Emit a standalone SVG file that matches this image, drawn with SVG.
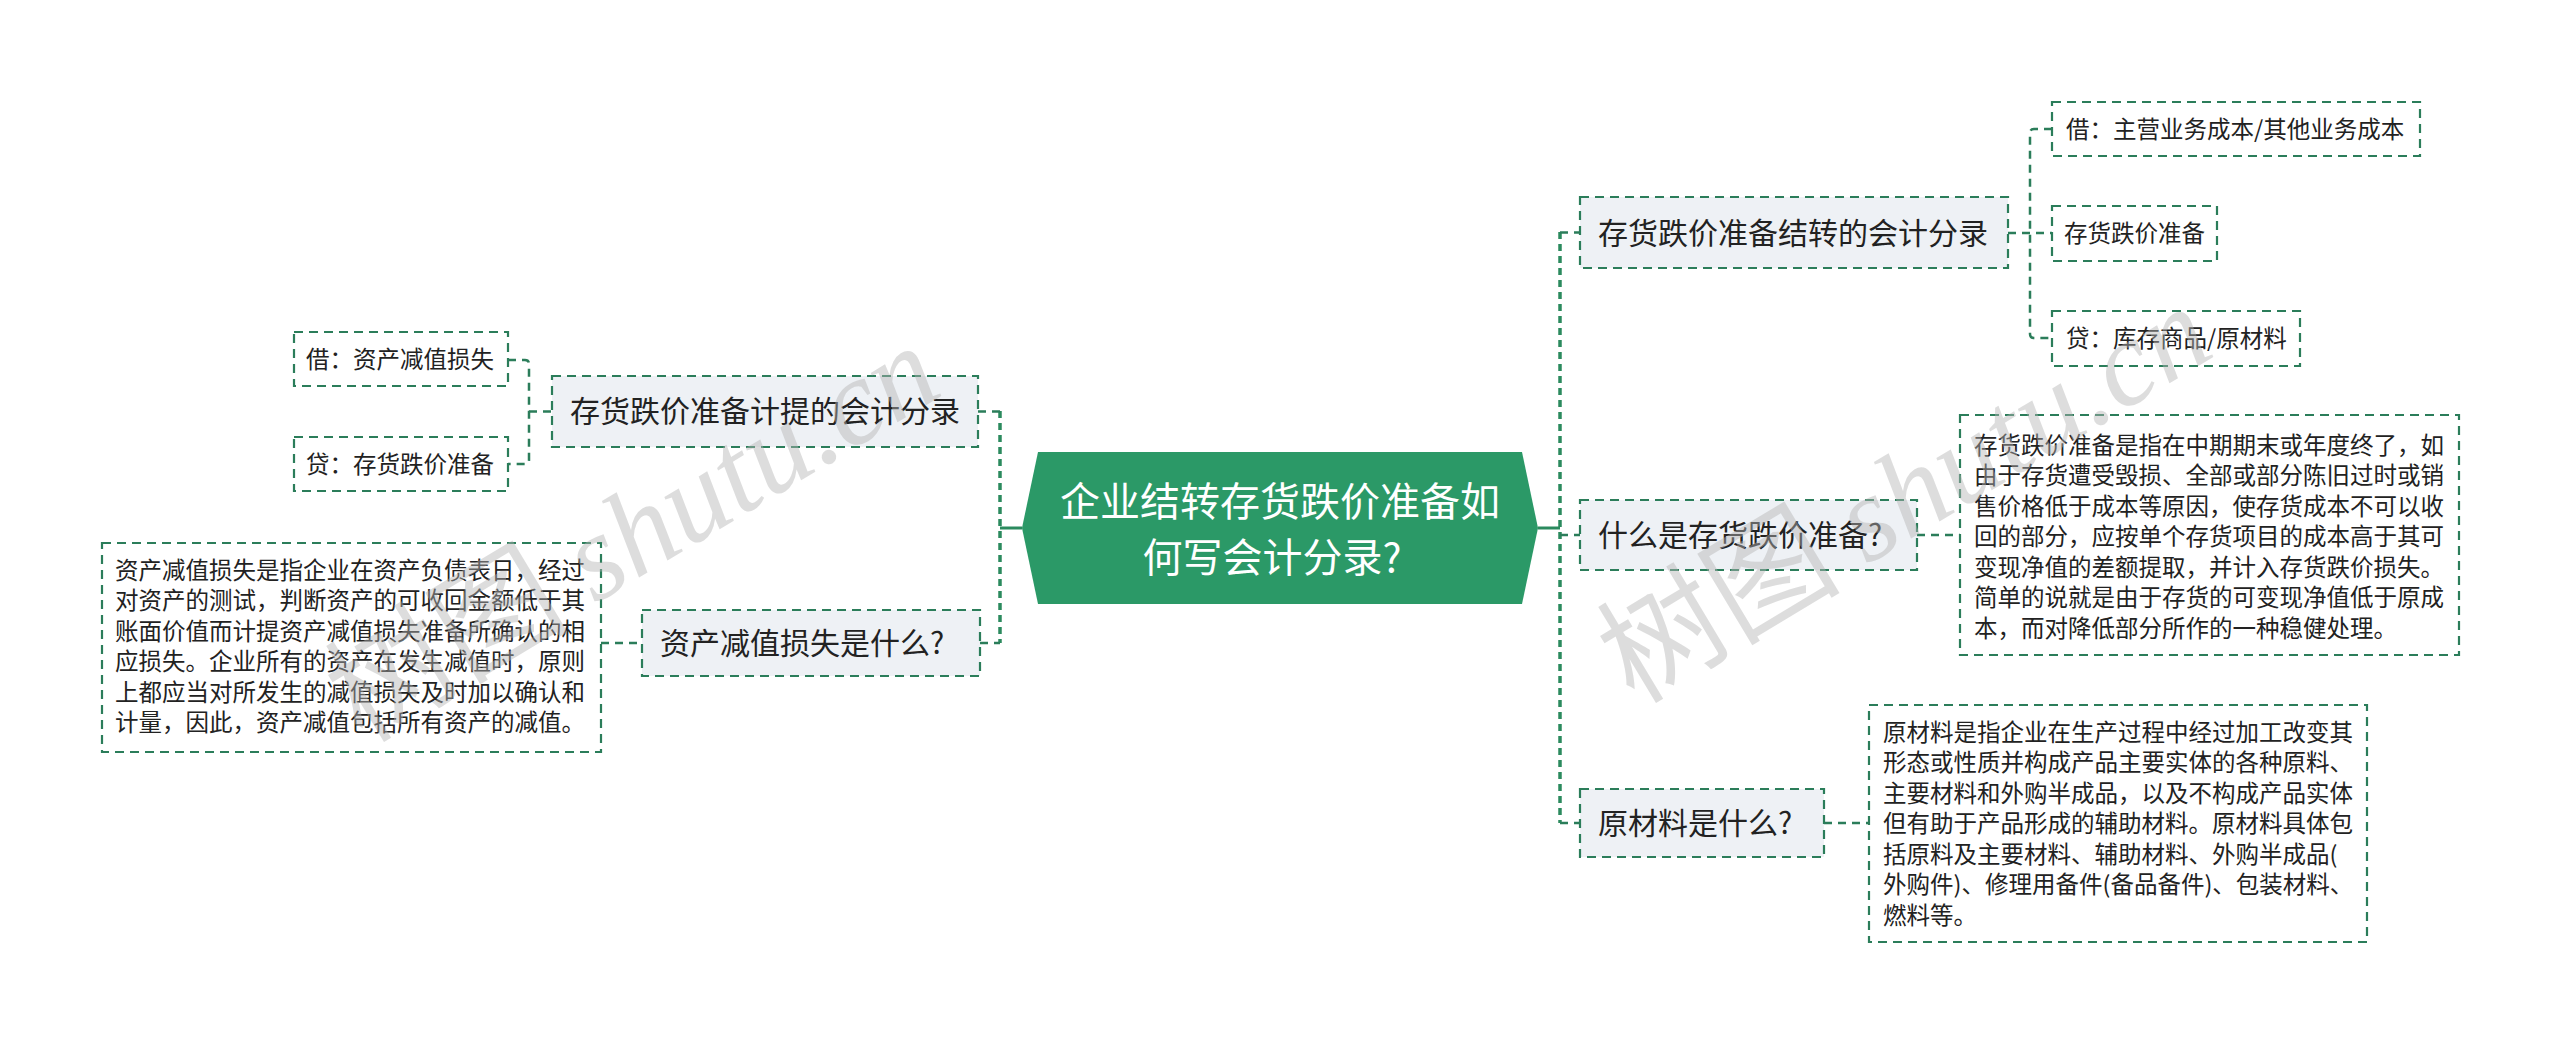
<svg xmlns="http://www.w3.org/2000/svg" width="2560" height="1043" viewBox="0 0 2560 1043">
<style>
text{font-family:"Noto Sans CJK SC","Noto Sans",sans-serif;}
.bg{fill:#ffffff;}
.box{fill:#ffffff;stroke:#2b7d5a;stroke-width:2.2;stroke-dasharray:9 6;}
.l1{fill:#eef1f5;stroke:#2b7d5a;stroke-width:2.2;stroke-dasharray:9 6;}
.conn{fill:none;stroke:#2b7d5a;stroke-width:2.5;stroke-dasharray:8 6;}
.trunk{fill:none;stroke:#2b8a5e;stroke-width:3.5;stroke-dasharray:7 5;}
.solid{fill:none;stroke:#2b8a5e;stroke-width:3;}
.t1{font-size:30px;fill:#222;}
.t2{font-size:23.5px;fill:#222;}
.root{font-size:40px;fill:#ffffff;}
.wm{font-size:122px;fill:#b4b4b4;fill-opacity:0.45;}
.wmf{font-family:"Liberation Serif",serif;font-style:italic;}
</style>
<rect class="bg" x="0" y="0" width="2560" height="1043"/>

<g id="connectors">
  <line class="solid" x1="1022" y1="528" x2="1000" y2="528"/>
  <line class="trunk" x1="1000" y1="411" x2="1000" y2="643"/>
  <line class="conn" x1="978" y1="411.5" x2="1000" y2="411.5"/>
  <line class="conn" x1="980" y1="643" x2="1000" y2="643"/>
  <line class="solid" x1="1538" y1="528" x2="1560" y2="528"/>
  <line class="trunk" x1="1560" y1="232" x2="1560" y2="823"/>
  <line class="conn" x1="1560" y1="232.5" x2="1580" y2="232.5"/>
  <line class="conn" x1="1560" y1="535" x2="1580" y2="535"/>
  <line class="conn" x1="1560" y1="823" x2="1580" y2="823"/>
  <line class="conn" x1="529" y1="411.5" x2="552" y2="411.5"/>
  <path class="conn" d="M508 360 H525 Q529 360 529 364 V460 Q529 464 525 464 H508"/>
  <line class="conn" x1="601" y1="643" x2="642" y2="643"/>
  <line class="conn" x1="2008" y1="233" x2="2052" y2="233"/>
  <path class="conn" d="M2052 129 H2034 Q2030 129 2030 133 V334 Q2030 338 2034 338 H2052"/>
  <line class="conn" x1="1917" y1="535" x2="1960" y2="535"/>
  <line class="conn" x1="1824" y1="823" x2="1869" y2="823"/>
</g>

<g id="root">
  <polygon points="1038,452 1522,452 1538,528 1522,604 1038,604 1022,528" fill="#2b9967"/>
  <text class="root" x="1280" y="516" text-anchor="middle">企业结转存货跌价准备如</text>
  <text class="root" x="1272" y="572" text-anchor="middle">何写会计分录?</text>
</g>

<g id="node-jiti">
  <rect class="l1" x="552" y="376" width="426" height="71"/>
  <text class="t1" x="570" y="422">存货跌价准备计提的会计分录</text>
</g>
<g id="node-jie-left">
  <rect class="box" x="294" y="332" width="214" height="54"/>
  <text class="t2" x="306" y="368">借：资产减值损失</text>
</g>
<g id="node-dai-left">
  <rect class="box" x="294" y="437" width="214" height="54"/>
  <text class="t2" x="306" y="473">贷：存货跌价准备</text>
</g>
<g id="node-zcjz">
  <rect class="l1" x="642" y="610" width="338" height="66"/>
  <text class="t1" x="660" y="654">资产减值损失是什么?</text>
</g>
<g id="node-zcjz-desc">
  <rect class="box" x="102" y="543" width="499" height="209"/>
  <text class="t2">
    <tspan x="115" y="578.5">资产减值损失是指企业在资产负债表日，经过</tspan>
    <tspan x="115" y="609">对资产的测试，判断资产的可收回金额低于其</tspan>
    <tspan x="115" y="639.5">账面价值而计提资产减值损失准备所确认的相</tspan>
    <tspan x="115" y="670">应损失。企业所有的资产在发生减值时，原则</tspan>
    <tspan x="115" y="700.5">上都应当对所发生的减值损失及时加以确认和</tspan>
    <tspan x="115" y="731">计量，因此，资产减值包括所有资产的减值。</tspan>
  </text>
</g>

<g id="node-jiezhuan">
  <rect class="l1" x="1580" y="197" width="428" height="71"/>
  <text class="t1" x="1598" y="243.5">存货跌价准备结转的会计分录</text>
</g>
<g id="node-jie-right">
  <rect class="box" x="2052" y="102" width="368" height="54"/>
  <text class="t2" x="2066" y="137.5">借：主营业务成本/其他业务成本</text>
</g>
<g id="node-chdj">
  <rect class="box" x="2052" y="206" width="165" height="55"/>
  <text class="t2" x="2064" y="242">存货跌价准备</text>
</g>
<g id="node-dai-right">
  <rect class="box" x="2052" y="311" width="248" height="55"/>
  <text class="t2" x="2066" y="347">贷：库存商品/原材料</text>
</g>

<g id="node-what-chdj">
  <rect class="l1" x="1580" y="500" width="337" height="70"/>
  <text class="t1" x="1598" y="546">什么是存货跌价准备?</text>
</g>
<g id="node-what-chdj-desc">
  <rect class="box" x="1960" y="415" width="499" height="240"/>
  <text class="t2">
    <tspan x="1974" y="453.5">存货跌价准备是指在中期期末或年度终了，如</tspan>
    <tspan x="1974" y="484">由于存货遭受毁损、全部或部分陈旧过时或销</tspan>
    <tspan x="1974" y="514.5">售价格低于成本等原因，使存货成本不可以收</tspan>
    <tspan x="1974" y="545">回的部分，应按单个存货项目的成本高于其可</tspan>
    <tspan x="1974" y="575.5">变现净值的差额提取，并计入存货跌价损失。</tspan>
    <tspan x="1974" y="606">简单的说就是由于存货的可变现净值低于原成</tspan>
    <tspan x="1974" y="636.5">本，而对降低部分所作的一种稳健处理。</tspan>
  </text>
</g>

<g id="node-ycl">
  <rect class="l1" x="1580" y="789" width="244" height="68"/>
  <text class="t1" x="1598" y="834">原材料是什么?</text>
</g>
<g id="node-ycl-desc">
  <rect class="box" x="1869" y="705" width="498" height="237"/>
  <text class="t2">
    <tspan x="1883" y="740.5">原材料是指企业在生产过程中经过加工改变其</tspan>
    <tspan x="1883" y="771">形态或性质并构成产品主要实体的各种原料、</tspan>
    <tspan x="1883" y="801.5">主要材料和外购半成品，以及不构成产品实体</tspan>
    <tspan x="1883" y="832">但有助于产品形成的辅助材料。原材料具体包</tspan>
    <tspan x="1883" y="862.5">括原料及主要材料、辅助材料、外购半成品(</tspan>
    <tspan x="1883" y="893">外购件)、修理用备件(备品备件)、包装材料、</tspan>
    <tspan x="1883" y="923.5">燃料等。</tspan>
  </text>
</g>

<g id="watermarks">
  <text class="wm" transform="translate(362,744) rotate(-31)">树图 <tspan class="wmf">shutu.cn</tspan></text>
  <text class="wm" transform="translate(1634,705) rotate(-31)">树图 <tspan class="wmf">shutu.cn</tspan></text>
</g>
</svg>
